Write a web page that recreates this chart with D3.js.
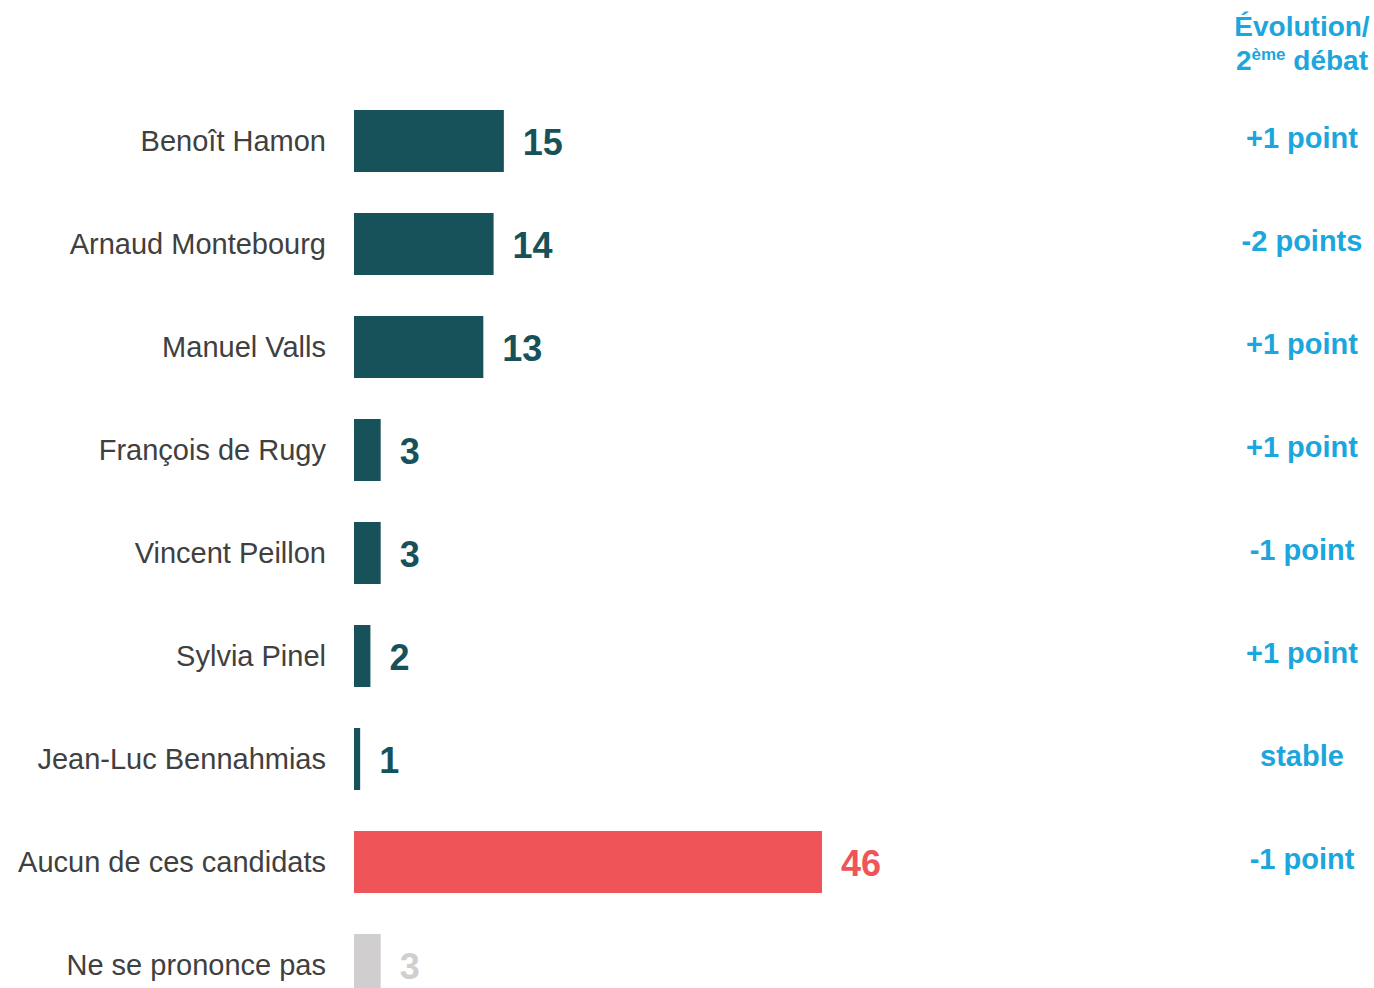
<!DOCTYPE html>
<html>
<head>
<meta charset="utf-8">
<script src="https://cdn.jsdelivr.net/npm/d3@7/dist/d3.min.js"></script>
<style>
  html, body { margin: 0; padding: 0; background: #ffffff; }
  svg { display: block; font-family: "Liberation Sans", Arial, sans-serif; }
</style>
</head>
<body>
<div id="chart"></div>
<script>
const candidats = ["Benoît Hamon", "Arnaud Montebourg", "Manuel Valls", "François de Rugy",
  "Vincent Peillon", "Sylvia Pinel", "Jean-Luc Bennahmias", "Aucun de ces candidats", "Ne se prononce pas"];
const valeurs = [15, 14, 13, 3, 3, 2, 1, 46, 3];
const evolutions = ["+1 point", "-2 points", "+1 point", "+1 point", "-1 point", "+1 point", "stable", "-1 point", ""];
const couleurs = ["#175159", "#175159", "#175159", "#175159", "#175159", "#175159", "#175159", "#ef5558", "#d0cecf"];

const width = 1374, height = 988;

const svg = d3.select("#chart").append("svg")
  .attr("width", width)
  .attr("height", height);

// échelles
const step = 103, p = 41 / 103;
const y = d3.scaleBand()
  .domain(candidats)
  .range([110 - p * step, 110 - p * step + step * (candidats.length + p)])
  .paddingInner(p)
  .paddingOuter(p);

const x = d3.scaleLinear()
  .domain([0.4, 46])
  .range([354, 822]);

const rows = candidats.map((c, i) => ({ nom: c, v: valeurs[i], evo: evolutions[i], col: couleurs[i] }));

const g = svg.append("g");

// barres
g.selectAll("rect")
  .data(rows)
  .enter()
  .append("rect")
  .attr("x", x(0.4))
  .attr("y", d => y(d.nom))
  .attr("width", d => x(d.v) - x(0.4))
  .attr("height", y.bandwidth())
  .attr("fill", d => d.col);

// noms des candidats
g.selectAll("text.nom")
  .data(rows)
  .enter()
  .append("text")
  .attr("class", "nom")
  .attr("x", 326)
  .attr("y", d => y(d.nom) + y.bandwidth() / 2 + 10)
  .attr("text-anchor", "end")
  .style("font-size", "29px")
  .style("fill", "#404040")
  .text(d => d.nom);

// valeurs
g.selectAll("text.val")
  .data(rows)
  .enter()
  .append("text")
  .attr("class", "val")
  .attr("x", d => x(d.v) + 19)
  .attr("y", d => y(d.nom) + y.bandwidth() / 2 + 14)
  .style("font-size", "36px")
  .style("font-weight", "700")
  .style("fill", d => d.col)
  .text(d => d.v);

// colonne évolution
g.selectAll("text.evo")
  .data(rows)
  .enter()
  .append("text")
  .attr("class", "evo")
  .attr("x", 1302)
  .attr("y", d => y(d.nom) + y.bandwidth() / 2 + 7)
  .attr("text-anchor", "middle")
  .style("font-size", "29px")
  .style("font-weight", "700")
  .style("fill", "#1ba6dd")
  .text(d => d.evo);

// en-tête
const head = svg.append("g")
  .style("font-size", "28px")
  .style("font-weight", "700")
  .style("fill", "#1ba6dd");

head.append("text")
  .attr("x", 1302)
  .attr("y", 36)
  .attr("text-anchor", "middle")
  .text("Évolution/");

const h2 = head.append("text")
  .attr("x", 1302)
  .attr("y", 70)
  .attr("text-anchor", "middle");
h2.append("tspan").text("2");
h2.append("tspan").attr("dy", -10).style("font-size", "17px").text("ème");
h2.append("tspan").attr("dy", 10).text(" débat");
</script>
</body>
</html>
